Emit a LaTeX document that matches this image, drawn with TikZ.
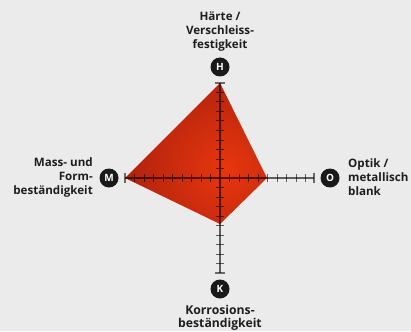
\documentclass[tikz,border=0pt]{standalone}
\usepackage{fontspec}
\setmainfont{Open Sans}
\definecolor{bgcol}{RGB}{235,235,235}
\definecolor{txtcol}{RGB}{30,30,30}
\definecolor{redin}{RGB}{232,54,14}
\definecolor{redout}{RGB}{125,16,12}
\begin{document}
\begin{tikzpicture}[x=1pt,y=-1pt,
  lbl/.style={font=\bfseries\fontsize{11.6}{14}\selectfont, text=txtcol, inner sep=0pt},
  lblk/.style={font=\bfseries\fontsize{12.2}{13.5}\selectfont, text=txtcol, inner sep=0pt},
  badge/.style={circle, fill=black!90, text=white, minimum size=19pt, inner sep=0pt, font=\bfseries\fontsize{10}{10}\selectfont},
  axisline/.style={draw=black, draw opacity=0.6, line width=1.1pt},
  tickmark/.style={draw=black, draw opacity=0.6, line width=1pt},
  endmark/.style={draw=black, draw opacity=0.55, line width=1.6pt}
]
\fill[bgcol] (0,0) rectangle (411,331);
\useasboundingbox (0,0) rectangle (411,331);
% axis points
\coordinate (C) at (220,178);
\coordinate (Htop) at (220,83);
\coordinate (Oend) at (314,178);
\coordinate (Kend) at (220,273);
\coordinate (Mend) at (125,178);
% values
\coordinate (vH) at (220,83);
\coordinate (vO) at (267,178);
\coordinate (vK) at (220,224);
\coordinate (vM) at (125,178);
% polygon
\begin{scope}
  \clip (vH) -- (vO) -- (vK) -- (vM) -- cycle;
  \shade[inner color=redin, outer color=redout] (226,170) circle (190);
\end{scope}
% axes
\draw[axisline] (Mend) -- (Oend);
\draw[axisline] (Htop) -- (Kend);
\foreach \i in {1,...,9} {
  \draw[tickmark] (220+\i*9.5,174) -- (220+\i*9.5,182);
  \draw[tickmark] (220-\i*9.5,174) -- (220-\i*9.5,182);
  \draw[tickmark] (216,178-\i*9.5) -- (224,178-\i*9.5);
  \draw[tickmark] (216,178+\i*9.5) -- (224,178+\i*9.5);
}
\draw[endmark] (Htop) ++(-5,0) -- ++(10,0);
\draw[endmark] (Kend) ++(-5,0) -- ++(10,0);
\draw[endmark] (Mend) ++(0,-5) -- ++(0,10);
\draw[endmark] (Oend) ++(0,-5) -- ++(0,10);
% badges
\node[badge] (bH) at (220,67) {H};
\node[badge] (bO) at (330,178) {O};
\node[badge] (bK) at (220,289) {K};
\node[badge] (bM) at (109,178) {M};
% labels
\node[lbl, align=center, anchor=south] (tH) at (220,51) {Härte /\\Verschleiss-\\festigkeit};
\node[lbl, align=right, anchor=east] (tM) at (93,177) {Mass- und\\Form-\\beständigkeit};
\node[lbl, align=left, anchor=west] (tO) at (348,177) {Optik /\\metallisch\\blank};
\node[lblk, align=center, anchor=north] (tK) at (220,305) {Korrosions-\\beständigkeit};
\end{tikzpicture}
\end{document}
